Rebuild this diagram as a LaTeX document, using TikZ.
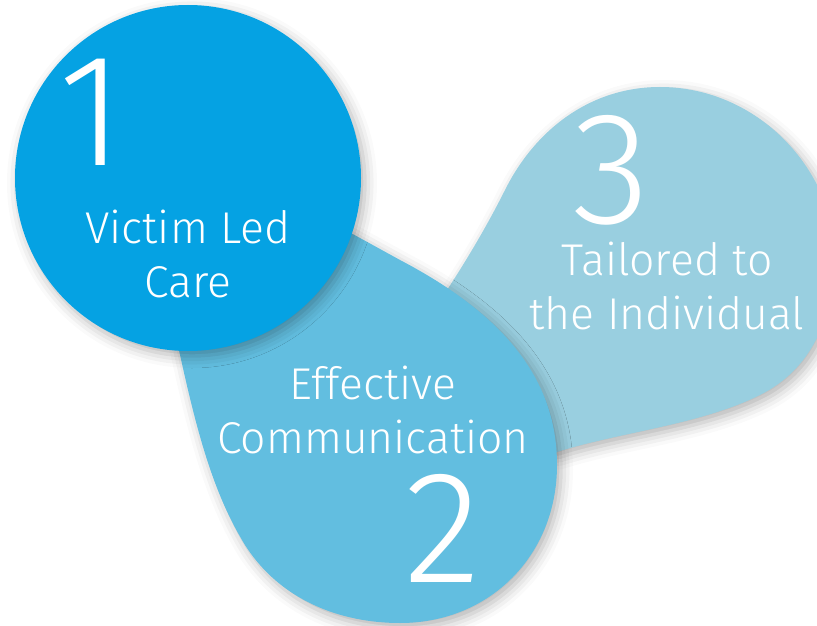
\documentclass[tikz,border=0pt]{standalone}
\usepackage{fontspec}
\setmainfont{Fira Sans Light}
\usepackage{tikz}
\usetikzlibrary{shadows.blur}
\definecolor{careblue}{RGB}{5,162,227}
\definecolor{talkblue}{RGB}{98,190,224}
\definecolor{tailorblue}{RGB}{153,207,224}

\begin{document}
\begin{tikzpicture}[x=1pt,y=-1pt,
    blob/.style={blur shadow={shadow xshift=4pt, shadow yshift=-5pt, shadow blur radius=12pt, shadow opacity=30}},
    numlabel/.style={text=white, inner sep=0pt, font=\fontsize{160}{160}\selectfont},
    textlabel/.style={text=white, inner sep=0pt, align=center, font=\fontsize{44.5}{54}\selectfont}]
    \useasboundingbox (0,0) rectangle (817,626);
    \clip (0,0) rectangle (817,626);

    % Tailored to the Individual (back)
    \fill[tailorblue, blob] (447,290) -- (500,460) -- (557,452)
        .. controls (620,432) and (700,425) .. (760,395)
        .. controls (810,370) and (835,320) .. (835,250)
        .. controls (830,165) and (755,87) .. (660,87)
        .. controls (590,87) and (535,130) .. (505,190)
        .. controls (490,220) and (470,255) .. (447,290) -- cycle;

    % Effective Communication (middle)
    \fill[talkblue, blob] (300,205) -- (168,300)
        .. controls (190,400) and (205,480) .. (245,545)
        .. controls (280,600) and (340,623) .. (400,623)
        .. controls (490,623) and (557,555) .. (557,465)
        .. controls (557,380) and (505,315) .. (400,260) -- cycle;

    % Victim Led Care (front)
    \fill[careblue, blob] (188,178) circle (173pt);

    \node[numlabel] (one) at (92,112) {1};
    \node[textlabel, anchor=base] (care) at (188,297) {Victim Led\\Care};

    \node[textlabel, anchor=base] (talk) at (373,453) {Effective\\Communication};
    \node[numlabel] (two) at (443,528) {2};

    \node[numlabel] (three) at (611,170) {3};
    \node[textlabel, anchor=base] (tailor) at (667,329) {Tailored to\\the Individual};
\end{tikzpicture}
\end{document}
